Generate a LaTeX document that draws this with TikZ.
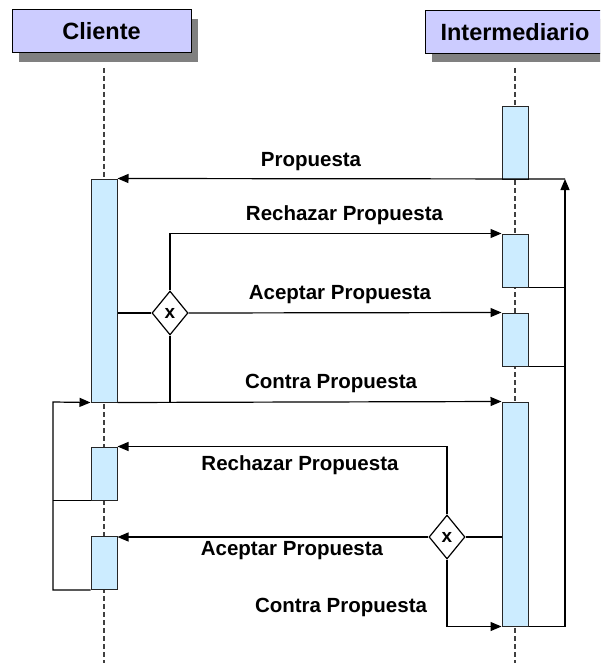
\documentclass[tikz,border=0pt]{standalone}
\usepackage{fontspec}
\setmainfont{Liberation Sans}
\usetikzlibrary{arrows.meta,shapes.geometric,shadows}

\definecolor{headfill}{RGB}{204,204,255}
\definecolor{barfill}{RGB}{204,236,255}

\tikzset{
  head/.style={draw=black, line width=1pt, fill=headfill, minimum height=43pt, inner sep=0pt,
    font=\fontsize{23.5}{26}\selectfont\bfseries,
    drop shadow={shadow xshift=7pt, shadow yshift=-9pt, fill=black!50, opacity=1}},
  bar/.style={draw=black!85, line width=1pt, fill=barfill, minimum width=26pt, inner sep=0pt},
  gate/.style={diamond, draw, line width=1.2pt, fill=white, minimum width=36pt, minimum height=44pt,
    inner sep=0pt, font=\fontsize{19}{19}\selectfont\bfseries},
  msg/.style={line width=1.2pt, -{Triangle[length=11pt,width=9pt]}},
  wire/.style={line width=1.2pt},
  lbl/.style={font=\fontsize{20.5}{22}\selectfont\bfseries, inner sep=0pt},
  life/.style={line width=1.5pt, black!75, dash pattern=on 5pt off 3pt}
}

\begin{document}
\begin{tikzpicture}[x=1pt,y=-1pt]
			\useasboundingbox (0,0) rectangle (600,663);
			\clip (0,0) rectangle (600,663);
			
			%%%%% HEADS %%%%%
			\node[head, minimum width=179pt] (cli) at (101.5,31.5) {Cliente};
			\node[head, minimum width=180pt] (inter) at (515,32) {Intermediario};
			
			\coordinate (cliTop) at (104,68);
			\coordinate (cliEnd) at (104,663);
			\coordinate (interTop) at (515,68);
			\coordinate (interEnd) at (515,663);
			\draw[life] (cliTop) -- (cliEnd);
			\draw[life] (interTop) -- (interEnd);
			
			%%%%% BARS %%%%%
			\node[bar, minimum height=72pt] (i0) at (515,143) {};
			\node[bar, minimum height=223pt] (c1) at (104,290.5) {};
			\node[bar, minimum height=53pt] (i2) at (515,260.5) {};
			\node[bar, minimum height=53pt] (i3) at (515,339.5) {};
			\node[bar, minimum height=224pt] (i4) at (515,514) {};
			\node[bar, minimum height=53pt] (c2) at (104,473.5) {};
			\node[bar, minimum height=53pt] (c3) at (104,563) {};
			
			\node[gate] (d1) at (170,313) {x};
			\node[gate] (d2) at (447,537) {x};
			
			\coordinate (rloop) at (565,179);
			\coordinate (lloop) at (53,402);
			
			%%%%% MESSAGES %%%%%
			\draw[msg] (i4.south east) -| (rloop);
			\draw[wire] (i2.south east) -- (i2.south east -| rloop);
			\draw[wire] (i3.south east) -- (i3.south east -| rloop);
			\draw[msg] (rloop) -- (c1.north east);
			
			\draw[msg] (d1.north) |- (i2.north west);
			\draw[wire] (c1.east |- d1) -- (d1.west);
			\draw[msg] (d1.east) -- (i3.north west);
			\draw[msg] (c1.south east) -- (i4.north west);
			\draw[wire] (d1.south) -- (d1.south |- c1.south);
			
			\draw[msg] (c3.south west) -| (lloop) -- (c1.south west);
			\draw[wire] (c2.south west) -- (c2.south west -| lloop);
			
			\draw[msg] (d2.north) |- (c2.north east);
			\draw[wire] (d2.east) -- (d2.east -| i4.west);
			\draw[msg] (d2.west) -- (d2.west -| c3.east);
			\draw[msg] (d2.south) |- (i4.south west);
			
			%%%%% LABELS %%%%%
			\node[lbl] (tProp) at (311,162) {Propuesta};
			\node[lbl] (tRech) at (344.5,215) {Rechazar Propuesta};
			\node[lbl] (tAcep) at (340,295) {Aceptar Propuesta};
			\node[lbl] (tContra) at (331,383) {Contra Propuesta};
			\node[lbl] (tRechB) at (300,465) {Rechazar Propuesta};
			\node[lbl] (tAcepB) at (292,551) {Aceptar Propuesta};
			\node[lbl] (tContraB) at (341,607) {Contra Propuesta};
\end{tikzpicture}
\end{document}
